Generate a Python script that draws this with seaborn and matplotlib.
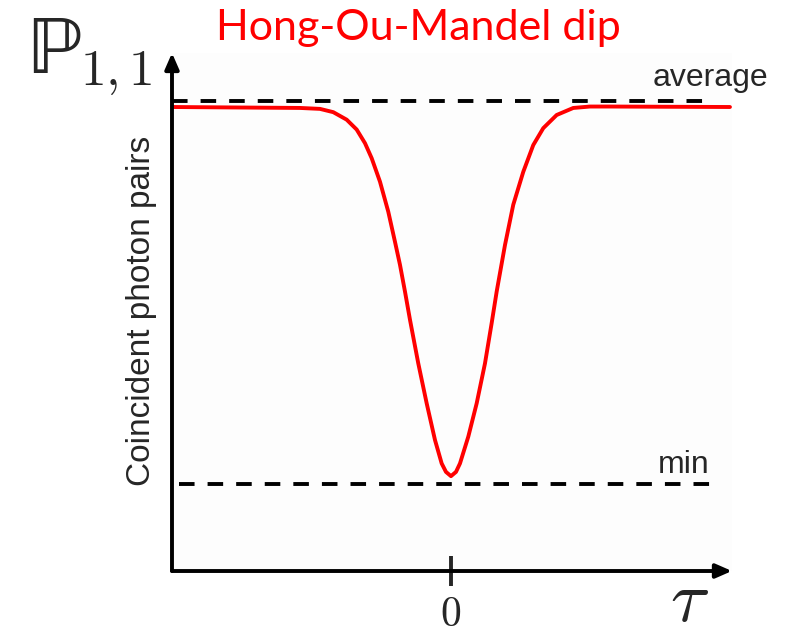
import numpy as np
import pandas as pd
import matplotlib
matplotlib.use("Agg")
import matplotlib.pyplot as plt
import seaborn as sns

# delay tau (arbitrary units) and normalised coincidence rate
tau = [-2.79, -1.51, -1.31, -1.177, -1.043, -0.943, -0.86, -0.793, -0.71, -0.627,
       -0.56, -0.51, -0.46, -0.41, -0.327, -0.243, -0.16, -0.093, -0.05, 0.0,
       0.05, 0.09, 0.173, 0.257, 0.34, 0.407, 0.457, 0.54, 0.623, 0.723,
       0.823, 0.923, 1.057, 1.223, 1.39, 1.59, 2.79]
coinc = [0.988, 0.986, 0.984, 0.977, 0.961, 0.940, 0.911, 0.879, 0.829, 0.765,
         0.701, 0.652, 0.595, 0.535, 0.442, 0.357, 0.279, 0.229, 0.211, 0.202,
         0.211, 0.229, 0.286, 0.357, 0.442, 0.528, 0.595, 0.694, 0.780, 0.850,
         0.907, 0.943, 0.971, 0.986, 0.989, 0.989, 0.988]
average_level = 1.0
min_level = 0.185

df = pd.DataFrame({"tau": tau, "P11": coinc})

sns.set_theme(style="white")
plt.rcParams["mathtext.fontset"] = "cm"

fig = plt.figure(figsize=(7.97, 6.37), dpi=100)
ax = fig.add_axes([0.2158, 0.1036, 0.7026, 0.8132])
ax.set_facecolor("#fdfdfd")

sns.lineplot(data=df, x="tau", y="P11", color="#ff0000", lw=2.8, ax=ax)

ax.hlines(average_level, -2.79, 2.63, colors="black", lw=2.8, linestyles=(0, (4.0, 3.35)))
ax.hlines(min_level, -2.72, 2.69, colors="black", lw=2.8, linestyles=(0, (4.0, 3.35)))
ax.text(2.02, 1.033, "average", fontsize=23, family="Liberation Sans", va="baseline")
ax.text(2.07, 0.209, "min", fontsize=23, family="Liberation Sans", va="baseline")

ax.set_xlim(-2.79, 2.81)
ax.set_ylim(0, 1.103)
for s in ax.spines.values():
    s.set_visible(False)

# axes with arrows
for tip in [(1.0, 0), (0, 1.0)]:
    ax.annotate("", xy=tip, xytext=(0, 0), xycoords="axes fraction",
                arrowprops=dict(arrowstyle="-|>,head_length=0.8,head_width=0.35", lw=2.8,
                                color="black", shrinkA=0, shrinkB=0))

ax.set_xticks([0])
ax.set_xticklabels(["$0$"], fontsize=30)
ax.tick_params(axis="x", direction="inout", length=22, width=2.8, pad=5, bottom=True)
ax.set_yticks([])
ax.set_xlabel("")
ax.set_ylabel("")

fig.text(0.178, 0.512, "Coincident photon pairs", fontsize=24, family="Liberation Sans",
         rotation=90, ha="center", va="center")
fig.text(0.841, 0.002, r"$\tau$", fontsize=52, ha="left", va="bottom")
fig.text(0.034, 0.885, "\u2119", fontsize=60, family="STIXGeneral",
         ha="left", va="baseline")
fig.text(0.100, 0.866, r"$1,1$", fontsize=37, ha="left", va="baseline")
fig.text(0.525, 0.937, "Hong-Ou-Mandel dip", fontsize=31, color="#ff0000",
         family="Lato", ha="center", va="baseline")

fig.savefig("out.png", dpi=100)
